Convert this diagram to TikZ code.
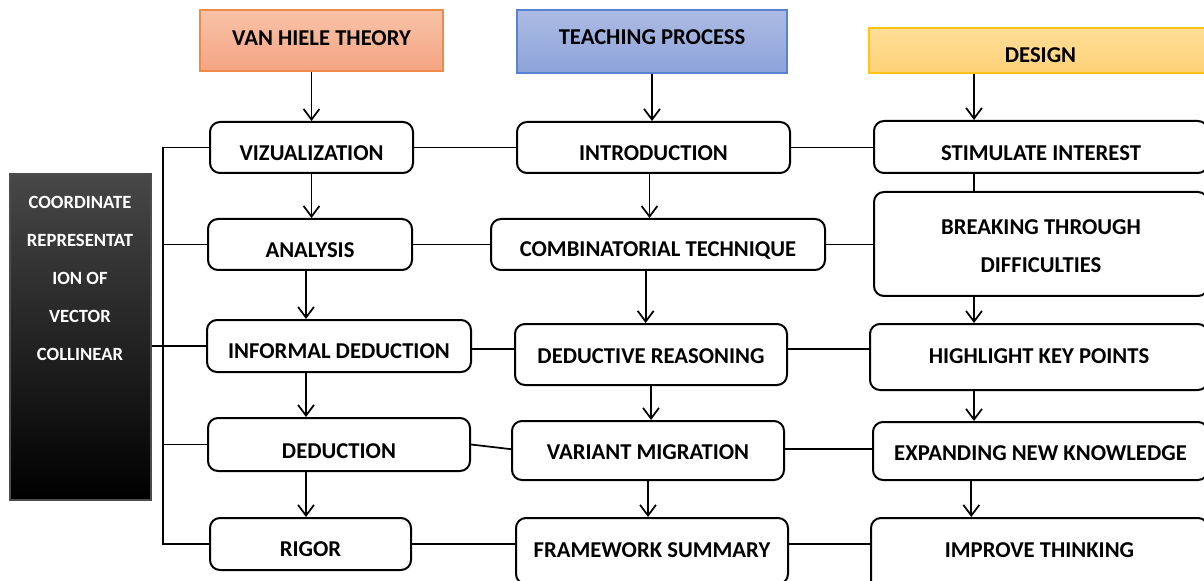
\documentclass[tikz,border=0pt]{standalone}
\usepackage{fontspec}
\setmainfont{Carlito}
\usetikzlibrary{arrows.meta,fit}
\definecolor{vhtop}{HTML}{F8C3A8}
\definecolor{vhbot}{HTML}{F4A482}
\definecolor{vhdraw}{HTML}{F08A4B}
\definecolor{tptop}{HTML}{ADBBE3}
\definecolor{tpbot}{HTML}{8CA3DA}
\definecolor{tpdraw}{HTML}{5B82D0}
\definecolor{dstop}{HTML}{FFDE98}
\definecolor{dsbot}{HTML}{FFD177}
\definecolor{dsdraw}{HTML}{FFC31A}
\begin{document}
\begin{tikzpicture}[x=0.75pt,y=-0.75pt,
  txt/.style={font=\fontsize{17}{28.5}\selectfont\bfseries, align=center, inner sep=0pt},
  box/.style={draw=black, line width=1.5pt, rounded corners=7.5pt, fill=white, inner sep=0pt},
  hdr/.style={line width=1pt, inner sep=0pt},
  con/.style={line width=1.3pt},
  arr/.style={con, -{Straight Barb[length=8pt,width=12pt]}}]
\fill[white] (0,0) rectangle (1204,581);
\useasboundingbox (0,0) rectangle (1204,581);

% headers
\node[hdr, top color=vhtop, bottom color=vhbot, draw=vhdraw, fit={(200,10)(443,71)}, label={[txt, yshift=1.5pt]center:VAN HIELE THEORY}] (vh) {};
\node[hdr, top color=tptop, bottom color=tpbot, draw=tpdraw, fit={(517,10)(787,73)}, label={[txt, yshift=3pt]center:TEACHING PROCESS}] (tp) {};
\node[hdr, top color=dstop, bottom color=dsbot, draw=dsdraw, fit={(869,28)(1212,73)}, label={[txt, yshift=-3.5pt]center:DESIGN}] (ds) {};

% column 1
\node[box, fit={(210,122)(413,173)}, label={[txt, yshift=-4.5pt]center:VIZUALIZATION}] (viz) {};
\node[box, fit={(208,219)(412,270)}, label={[txt, yshift=-4.5pt]center:ANALYSIS}] (ana) {};
\node[box, fit={(207,320)(471,372)}, label={[txt, yshift=-3.75pt]center:INFORMAL DEDUCTION}] (inf) {};
\node[box, fit={(208,418)(470,471)}, label={[txt, yshift=-5pt]center:DEDUCTION}] (ded) {};
\node[box, fit={(210,518)(411,570)}, label={[txt, yshift=-3.75pt]center:RIGOR}] (rig) {};

% column 2
\node[box, fit={(517,122)(790,173)}, label={[txt, yshift=-4.5pt]center:INTRODUCTION}] (intro) {};
\node[box, fit={(491,219)(825,270)}, label={[txt, yshift=-4.5pt]center:COMBINATORIAL TECHNIQUE}] (comb) {};
\node[box, fit={(515,324)(787,385)}, label={[txt, yshift=-1.5pt]center:DEDUCTIVE REASONING}] (dedr) {};
\node[box, fit={(512,421)(784,480)}, label={[txt, yshift=-1.5pt]center:VARIANT MIGRATION}] (var) {};
\node[box, fit={(516,518)(788,584)}, label={[txt, yshift=0.5pt]center:FRAMEWORK SUMMARY}] (fw) {};

% column 3
\node[box, fit={(874,121)(1208,173)}, label={[txt, yshift=-4.5pt]center:STIMULATE INTEREST}] (stim) {};
\node[box, fit={(874,192)(1208,296)}, label={[txt, yshift=-1.5pt]center:BREAKING THROUGH\\DIFFICULTIES}] (brk) {};
\node[box, fit={(870,324)(1208,390)}, label={[txt, yshift=0.5pt]center:HIGHLIGHT KEY POINTS}] (hl) {};
\node[box, fit={(873,422)(1208,480)}, label={[txt, yshift=-1.5pt]center:EXPANDING NEW KNOWLEDGE}] (exp) {};
\node[box, fit={(871,518)(1208,592)}, label={[txt, yshift=3.75pt]center:IMPROVE THINKING}] (imp) {};

% left black box
\node[draw=black!70, line width=0.8pt, top color=black!72, middle color=black, bottom color=black, inner sep=0pt, fit={(10,174)(151,500)}] (cr) {};
\node[txt, text=white, font=\fontsize{14}{28.5}\selectfont\bfseries, anchor=north] (crt) at (80,196) {COORDINATE\\REPRESENTAT\\ION OF\\VECTOR\\COLLINEAR};

% helper columns
\coordinate (busx) at (163,0);
\coordinate (c3) at (974,0);

% bus
\draw[con] (viz.west) -- (viz.west -| busx) -- (rig.west -| busx) -- (rig.west);
\draw[con] (ana.west -| busx) -- (ana.west);
\draw[con] (ded.west -| busx) -- (ded.west);
\draw[con] (cr.east |- inf.west) -- (inf.west);

% horizontal connectors
\draw[con] (viz.east) -- (intro.west);
\draw[con] (intro.east) -- (stim.west |- intro.east);
\draw[con] (ana.east) -- (comb.west);
\draw[con] (comb.east) -- (brk.west |- comb.east);
\draw[con] ([yshift=-2pt]inf.east) -- ([yshift=-2pt]inf.east -| dedr.west);
\draw[con] ([yshift=-2pt]inf.east -| dedr.east) -- ([yshift=-2pt]inf.east -| hl.west);
\draw[con] (ded.east) -- ([yshift=1pt]var.west);
\draw[con] ([yshift=1pt]var.east) -- ([yshift=1pt]exp.west |- var.east);
\draw[con] (rig.east) -- (fw.west |- rig.east);
\draw[con] (fw.east |- rig.east) -- (imp.west |- rig.east);

% vertical arrows column 1
\draw[arr] (vh.south -| viz.north) -- (viz.north);
\draw[arr] (viz.south) -- (viz.south |- ana.north);
\draw[arr] ([xshift=-3pt]ana.south) -- ([xshift=-3pt]ana.south |- inf.north);
\draw[arr] ([xshift=-3pt]inf.south -| ana.south) -- ([xshift=-3pt]ded.north -| ana.south);
\draw[arr] ([xshift=-3pt]ded.south -| ana.south) -- ([xshift=-3pt]rig.north -| ana.south);

% vertical arrows column 2
\draw[arr] (tp.south) -- (tp.south |- intro.north);
\draw[arr] ([xshift=-3pt]intro.south) -- ([xshift=-3pt]intro.south |- comb.north);
\draw[arr] ([xshift=-4pt]dedr.north |- comb.south) -- ([xshift=-4pt]dedr.north);
\draw[arr] (dedr.south) -- (dedr.south |- var.north);
\draw[arr] (var.south) -- (var.south |- fw.north);

% vertical arrows column 3
\draw[arr] (ds.south -| c3) -- (stim.north -| c3);
\draw[con] (stim.south -| c3) -- (brk.north -| c3);
\draw[arr] (brk.south -| c3) -- (hl.north -| c3);
\draw[arr] (hl.south -| c3) -- (exp.north -| c3);
\draw[arr] ([xshift=-2pt]exp.south -| c3) -- ([xshift=-2pt]imp.north -| c3);
\end{tikzpicture}
\end{document}
